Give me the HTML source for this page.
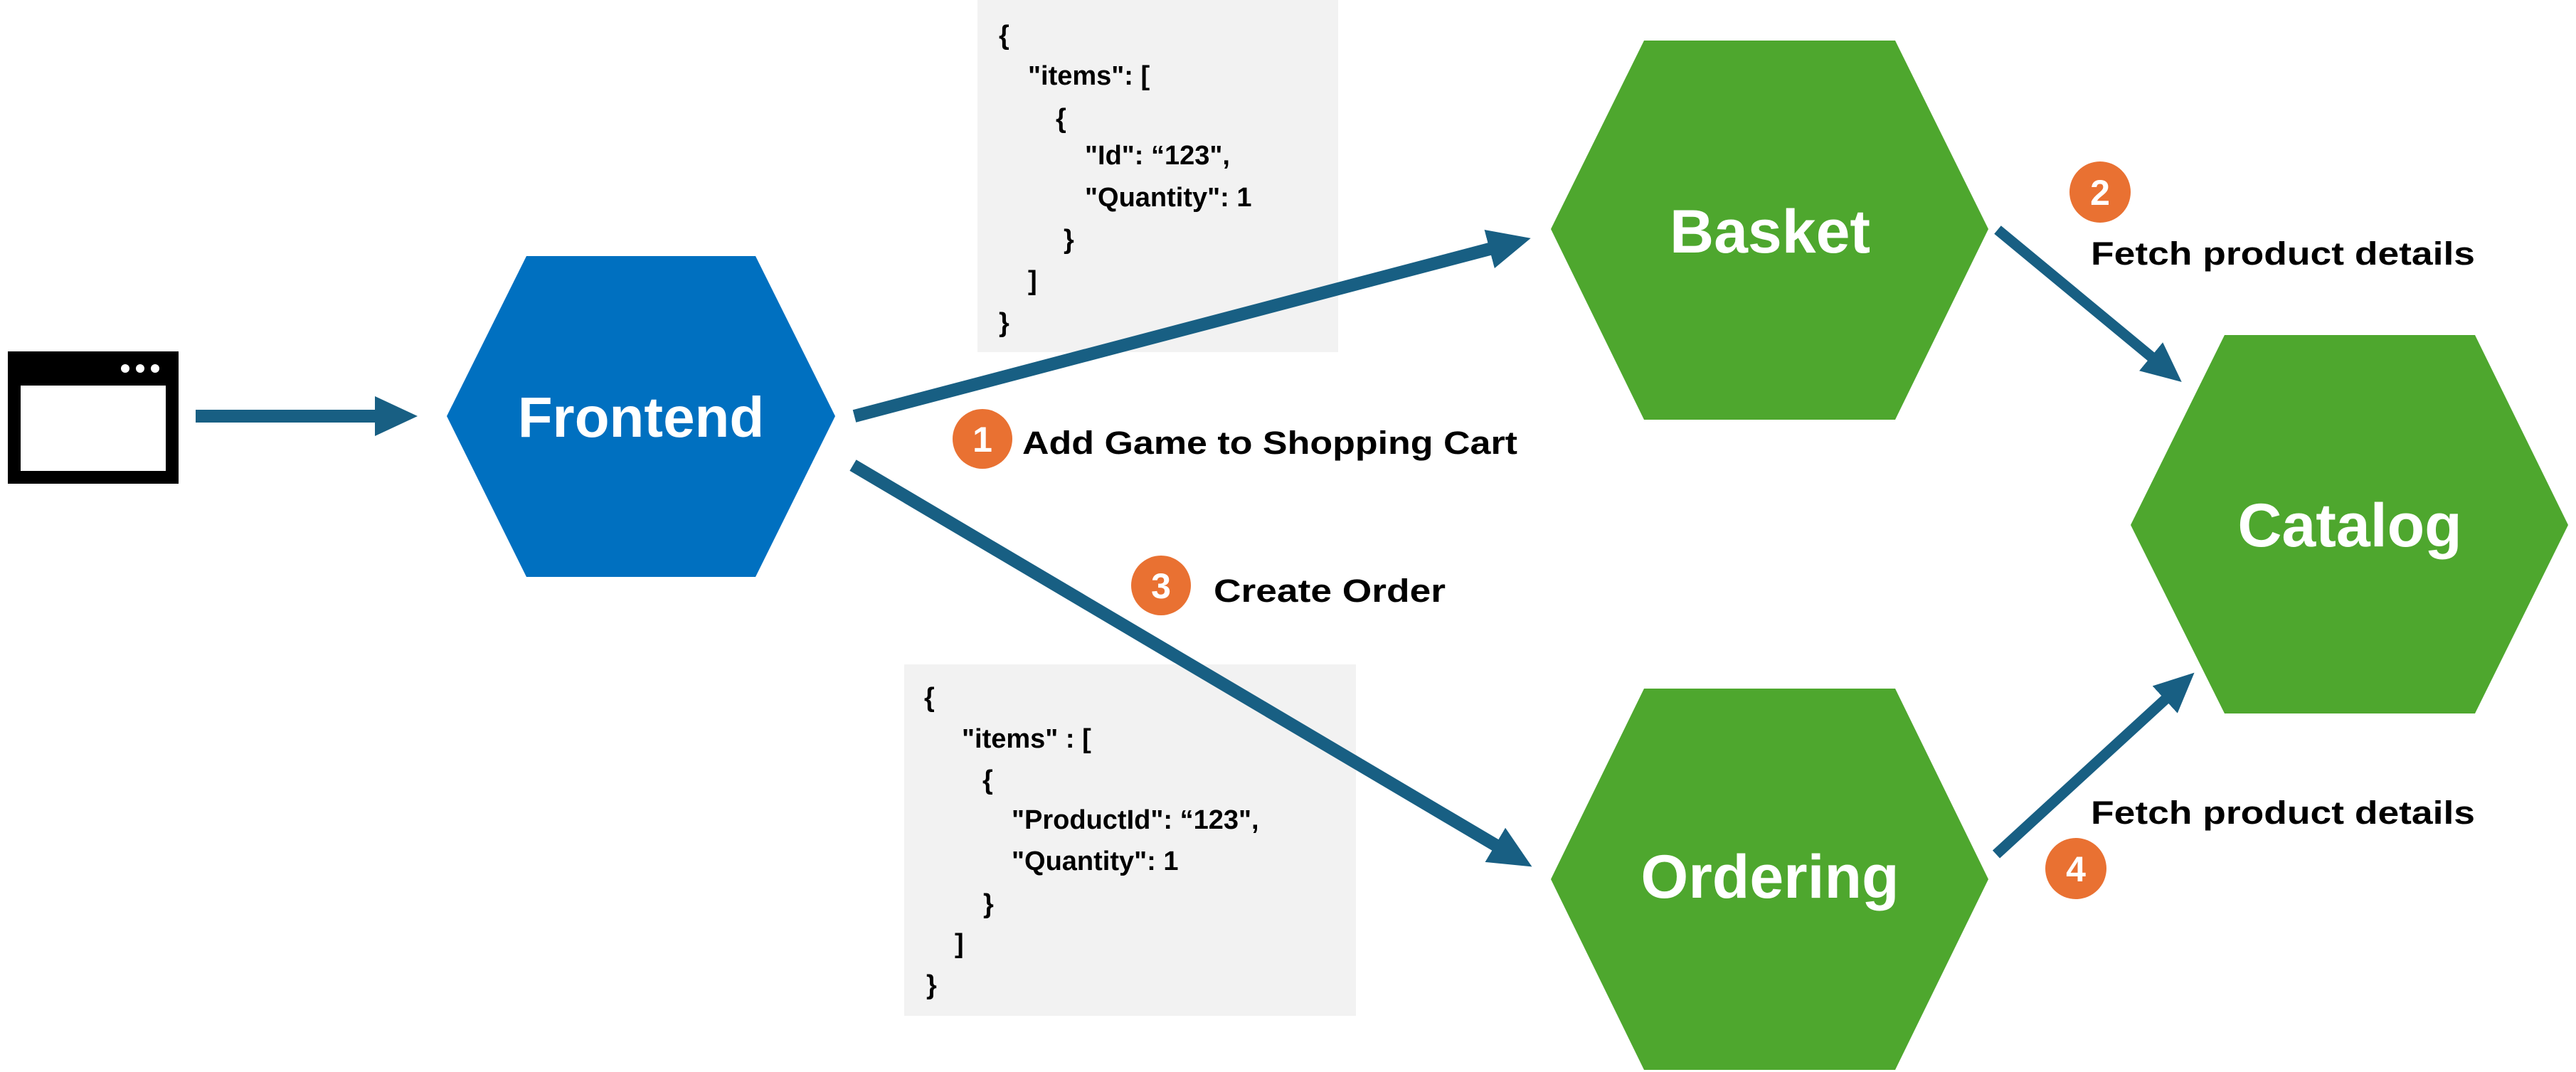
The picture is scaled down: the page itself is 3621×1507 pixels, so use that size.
<!DOCTYPE html>
<html><head><meta charset="utf-8"><style>
html,body{margin:0;padding:0;background:#fff;}
svg{display:block;}
text{font-family:"Liberation Sans",sans-serif;font-weight:bold;}
</style></head><body>
<svg width="3621" height="1507" viewBox="0 0 3621 1507" xmlns="http://www.w3.org/2000/svg">
<defs>
<marker id="ah" markerUnits="userSpaceOnUse" markerWidth="62" markerHeight="58" refX="20" refY="28" orient="auto">
<path d="M0,0 L60,28 L0,56 Z" fill="#185f83"/>
</marker>
<marker id="ah2" markerUnits="userSpaceOnUse" markerWidth="62" markerHeight="58" refX="20" refY="26" orient="auto">
<path d="M0,0 L56,26 L0,52 Z" fill="#185f83"/>
</marker>
</defs>
<!-- JSON boxes -->
<rect x="1374" y="0" width="507" height="495" fill="#f2f2f2"/>
<rect x="1271" y="934" width="635" height="494" fill="#f2f2f2"/>
<g font-size="38" fill="#000">
<text x="1404" y="62">{</text>
<text x="1445" y="119">"items": [</text>
<text x="1484" y="179">{</text>
<text x="1525" y="231">"Id": “123",</text>
<text x="1525" y="290">"Quantity": 1</text>
<text x="1495" y="349">}</text>
<text x="1445" y="407">]</text>
<text x="1404" y="466">}</text>

<text x="1299" y="993">{</text>
<text x="1352" y="1051">"items" : [</text>
<text x="1381" y="1109">{</text>
<text x="1422" y="1165">"ProductId": “123",</text>
<text x="1422" y="1223">"Quantity": 1</text>
<text x="1382" y="1283">}</text>
<text x="1342" y="1339">]</text>
<text x="1302" y="1397">}</text>
</g>
<!-- browser icon -->
<rect x="11" y="494" width="240" height="186" fill="#000"/>
<rect x="29" y="542" width="204" height="120" fill="#fff"/>
<circle cx="176" cy="518" r="6" fill="#fff"/>
<circle cx="197" cy="518" r="6" fill="#fff"/>
<circle cx="218" cy="518" r="6" fill="#fff"/>
<!-- hexagons -->
<polygon points="628,585 740,360 1062,360 1174,585 1062,811 740,811" fill="#0070c0"/>
<polygon points="2180,322 2311,57 2664,57 2795,322 2664,590 2311,590" fill="#4ea72e"/>
<polygon points="2180,1236 2311,968 2664,968 2795,1236 2664,1504 2311,1504" fill="#4ea72e"/>
<polygon points="2995,738 3127,471 3479,471 3610,738 3479,1003 3127,1003" fill="#4ea72e"/>
<g fill="#fff" text-anchor="middle">
<text x="901" y="614" font-size="80">Frontend</text>
<text x="2488" y="355" font-size="86">Basket</text>
<text x="2488" y="1262" font-size="86">Ordering</text>
<text x="3303" y="768" font-size="86">Catalog</text>
</g>
<!-- arrows -->
<g stroke="#185f83" stroke-width="18" fill="none">
<line x1="275" y1="585" x2="547" y2="585" marker-end="url(#ah)"/>
<line x1="1201" y1="585" x2="2113" y2="345" marker-end="url(#ah)"/>
<line x1="1199" y1="654" x2="2119" y2="1198" marker-end="url(#ah)"/>
</g>
<g stroke="#185f83" stroke-width="15" fill="none">
<line x1="2808" y1="323" x2="3039" y2="514" marker-end="url(#ah2)"/>
<line x1="2806" y1="1201" x2="3058" y2="970" marker-end="url(#ah2)"/>
</g>
<!-- badges -->
<g fill="#e97132">
<circle cx="1381" cy="617" r="42"/>
<circle cx="1632" cy="823" r="42"/>
<circle cx="2952" cy="270" r="43"/>
<circle cx="2918" cy="1221" r="43"/>
</g>
<g fill="#fff" font-size="50" text-anchor="middle">
<text x="1381" y="635">1</text>
<text x="1632" y="841">3</text>
<text x="2952" y="288">2</text>
<text x="2918" y="1239">4</text>
</g>
<g fill="#000" font-size="45">
<text x="1437" y="638" textLength="696" lengthAdjust="spacingAndGlyphs">Add Game to Shopping Cart</text>
<text x="1706" y="846" textLength="326" lengthAdjust="spacingAndGlyphs">Create Order</text>
<text x="2939" y="372" textLength="540" lengthAdjust="spacingAndGlyphs">Fetch product details</text>
<text x="2939" y="1158" textLength="540" lengthAdjust="spacingAndGlyphs">Fetch product details</text>
</g>
</svg>
</body></html>
